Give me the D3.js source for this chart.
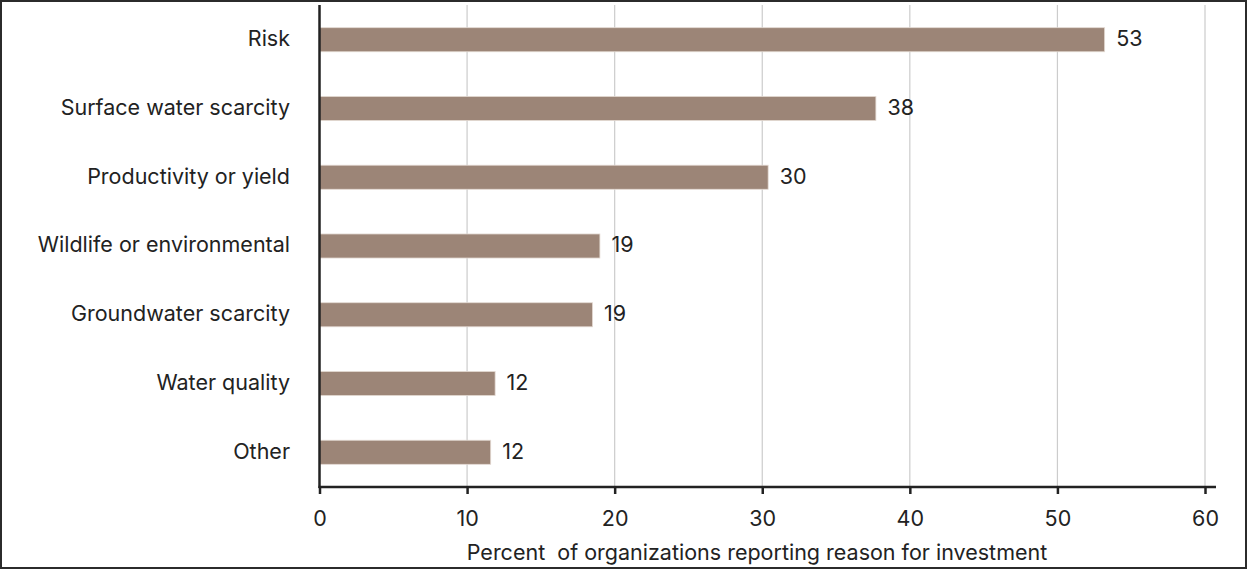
<!DOCTYPE html>
<html><head><meta charset="utf-8">
<script src="https://cdn.jsdelivr.net/npm/d3@7"></script>
<style>html,body{margin:0;padding:0;background:#fff;}svg{display:block;}</style>
</head><body>
<svg id="chart" width="1247" height="569"></svg>
<script>
const categories = ["Risk","Surface water scarcity","Productivity or yield","Wildlife or environmental","Groundwater scarcity","Water quality","Other"];
const values = [53.2, 37.7, 30.4, 19.0, 18.5, 11.9, 11.6];
const valueLabels = ["53","38","30","19","19","12","12"];
const xTicks = [0,10,20,30,40,50,60];
const xTitle = "Percent\u00a0 of organizations reporting reason for investment";

(function(){
const svg = d3.select("#chart");
const font = "Inter, 'Noto Sans', sans-serif";
const fs = 21.5;
svg.append("rect").attr("x",1).attr("y",1).attr("width",1245).attr("height",567)
  .attr("fill","#fff").attr("stroke","#2b2b2b").attr("stroke-width",2);

const pLeft = 319.5, pRight = 1205, pTop = 5, pBottom = 487;
const x = d3.scaleLinear().domain([0,60]).range([pLeft,pRight]);
const y = d3.scaleBand().domain(categories).range([pTop,pBottom]).paddingInner(0.65).paddingOuter(0.33);

// gridlines
svg.append("g").selectAll("line").data(xTicks.filter(d=>d>0)).join("line")
  .attr("x1",d=>x(d)).attr("x2",d=>x(d)).attr("y1",pTop).attr("y2",pBottom)
  .attr("stroke","#cccccc").attr("stroke-width",1.2);

// bars
svg.append("g").selectAll("rect").data(categories).join("rect")
  .attr("x",x(0)).attr("y",d=>y(d)).attr("height",y.bandwidth())
  .attr("width",(d,i)=>x(values[i])-x(0))
  .attr("fill","#9c8577").attr("stroke","#e4dad3").attr("stroke-width",0.8);

// value labels
svg.append("g").selectAll("text").data(categories).join("text")
  .attr("x",(d,i)=>x(values[i])+11.5).attr("y",d=>y(d)+y.bandwidth()/2)
  .attr("dy","0.3em").attr("font-family",font).attr("font-size",fs).attr("fill","#222")
  .text((d,i)=>valueLabels[i]);

// category labels
svg.append("g").selectAll("text").data(categories).join("text")
  .attr("x",290).attr("y",d=>y(d)+y.bandwidth()/2).attr("dy","0.3em")
  .attr("text-anchor","end").attr("font-family",font).attr("font-size",fs).attr("fill","#222")
  .text(d=>d);

// x axis
const xAxis = d3.axisBottom(x).tickValues(xTicks).tickSize(7).tickPadding(17).tickFormat(d3.format("d"));
const gx = svg.append("g").attr("transform",`translate(0,${pBottom})`).call(xAxis);
gx.select(".domain").attr("d",`M${pLeft-1},0H${pRight+11}`).attr("stroke","#222").attr("stroke-width",2.5);
gx.selectAll(".tick line").attr("stroke","#222").attr("stroke-width",2.5);
gx.selectAll(".tick text").attr("font-family",font).attr("font-size",fs).attr("fill","#222");

// y axis line
svg.append("line").attr("x1",pLeft).attr("x2",pLeft).attr("y1",pTop).attr("y2",pBottom+1)
  .attr("stroke","#222").attr("stroke-width",2.5);

svg.append("text").attr("x",757).attr("y",560).attr("text-anchor","middle")
  .attr("font-family",font).attr("font-size",fs).attr("fill","#222").text(xTitle);
})();
</script>
</body></html>
